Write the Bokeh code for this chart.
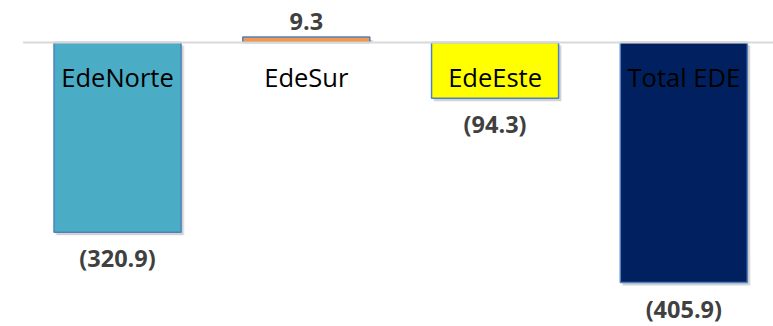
from bokeh.plotting import figure
from bokeh.models import ColumnDataSource, Range1d
from bokeh.core.properties import value
from bokeh.embed import file_html
from bokeh.resources import INLINE

categories = ["EdeNorte", "EdeSur", "EdeEste", "Total EDE"]
values = [-320.9, 9.3, -94.3, -405.9]
value_labels = ["(320.9)", "9.3", "(94.3)", "(405.9)"]
colors = ["#4BACC6", "#F79646", "#FFFF00", "#002060"]

xs = list(range(len(categories)))
PX_X = 188.8   # px per category
PX_Y = 0.5915  # px per unit

src = ColumnDataSource(dict(
    x=xs, top=values, bottom=[0] * len(values), color=colors,
    cat=categories, lab=value_labels,
    sx=[x + 2.5 / PX_X for x in xs],
    stop=[v - 3 / PX_Y for v in values],
    sbot=[-3 / PX_Y if v < 0 else 0 for v in values],
    ly=[v + (15 / PX_Y if v > 0 else -26 / PX_Y) for v in values],
))

p = figure(width=773, height=326, output_backend="svg", toolbar_location=None,
           x_range=Range1d(-0.620, 3.475), y_range=Range1d(-480.1, 71.0),
           min_border=0, outline_line_color=None, background_fill_color="white")
p.axis.visible = False
p.grid.visible = False

# soft shadows
p.vbar(x="sx", top="stop", bottom="sbot", width=0.673, source=src,
       fill_color="#000000", fill_alpha=0.12, line_color=None)
p.vbar(x="sx", top="stop", bottom="sbot", width=0.673 + 2 / PX_X, source=src,
       fill_color="#000000", fill_alpha=0.06, line_color=None)

p.vbar(x="x", top="top", bottom="bottom", width=0.673, source=src,
       fill_color="color", line_color="#4F81BD", line_width=1.5)

# zero baseline
p.segment(x0=[-0.5], y0=[0], x1=[3.6], y1=[0], line_color="#D9D9D9", line_width=2)

# category labels
p.text(x="x", y="bottom", text="cat", source=src, y_offset=35,
       text_font=value("Open Sans"), text_font_size="25.5px", text_color="#000000",
       text_align="center", text_baseline="alphabetic")

# value labels
p.text(x="x", y="ly", text="lab", source=src,
       text_font=value("Open Sans"), text_font_size="23.5px", text_font_style="bold",
       text_color="#404040", text_align="center", text_baseline="alphabetic")

open("out.html", "w").write(file_html(p, INLINE))
